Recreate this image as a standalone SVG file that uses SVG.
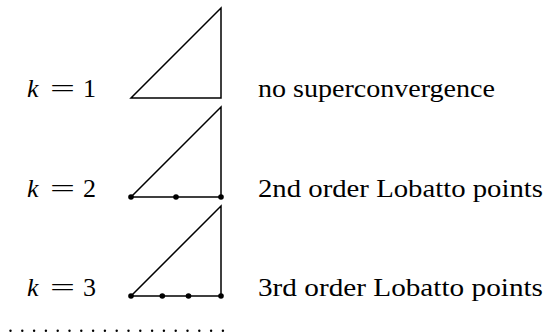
<svg xmlns="http://www.w3.org/2000/svg" width="550" height="334" viewBox="0 0 550 334">
<style>
.tri{fill:none;stroke:#000;stroke-width:1.5;stroke-linejoin:miter}
.dot{fill:#000}
text{font-family:'Liberation Serif','Times New Roman',serif;font-size:26px;fill:#000}
.it{font-style:italic}
.fine{fill:#000}
</style>
<rect width="550" height="334" fill="#fff"/>
<g id="row1">
<text class="it" x="27" y="97">k</text>
<text x="50" y="97" textLength="25" lengthAdjust="spacingAndGlyphs">=</text>
<text x="83" y="97">1</text>
<polygon class="tri" points="131,98 221,98 221,8"/>
<text x="258" y="97" textLength="237" lengthAdjust="spacingAndGlyphs">no superconvergence</text>
</g>
<g id="row2">
<text class="it" x="27" y="197">k</text>
<text x="50" y="197" textLength="25" lengthAdjust="spacingAndGlyphs">=</text>
<text x="83" y="197">2</text>
<polygon class="tri" points="131,197 221,197 221,107"/>
<circle class="dot" cx="131" cy="197" r="2.8"/>
<circle class="dot" cx="176" cy="197" r="2.8"/>
<circle class="dot" cx="221" cy="197" r="2.8"/>
<text x="258" y="197" textLength="285" lengthAdjust="spacingAndGlyphs">2nd order Lobatto points</text>
</g>
<g id="row3">
<text class="it" x="27" y="296">k</text>
<text x="50" y="296" textLength="25" lengthAdjust="spacingAndGlyphs">=</text>
<text x="83" y="296">3</text>
<polygon class="tri" points="131,296 221,296 221,206"/>
<circle class="dot" cx="131" cy="296" r="2.8"/>
<circle class="dot" cx="162.3" cy="296" r="2.8"/>
<circle class="dot" cx="188.5" cy="296" r="2.8"/>
<circle class="dot" cx="221" cy="296" r="2.8"/>
<text x="258" y="296" textLength="285" lengthAdjust="spacingAndGlyphs">3rd order Lobatto points</text>
</g>
<g id="dots" class="fine">
<circle cx="10.5" cy="330.7" r="1.2"/><circle cx="22.3" cy="330.7" r="1.2"/><circle cx="34.1" cy="330.7" r="1.2"/><circle cx="45.9" cy="330.7" r="1.2"/><circle cx="57.7" cy="330.7" r="1.2"/><circle cx="69.5" cy="330.7" r="1.2"/><circle cx="81.3" cy="330.7" r="1.2"/><circle cx="93.1" cy="330.7" r="1.2"/><circle cx="104.9" cy="330.7" r="1.2"/><circle cx="116.7" cy="330.7" r="1.2"/><circle cx="128.5" cy="330.7" r="1.2"/><circle cx="140.3" cy="330.7" r="1.2"/><circle cx="152.1" cy="330.7" r="1.2"/><circle cx="163.9" cy="330.7" r="1.2"/><circle cx="175.7" cy="330.7" r="1.2"/><circle cx="187.5" cy="330.7" r="1.2"/><circle cx="199.3" cy="330.7" r="1.2"/><circle cx="211.1" cy="330.7" r="1.2"/><circle cx="222.9" cy="330.7" r="1.2"/>
</g>
</svg>
